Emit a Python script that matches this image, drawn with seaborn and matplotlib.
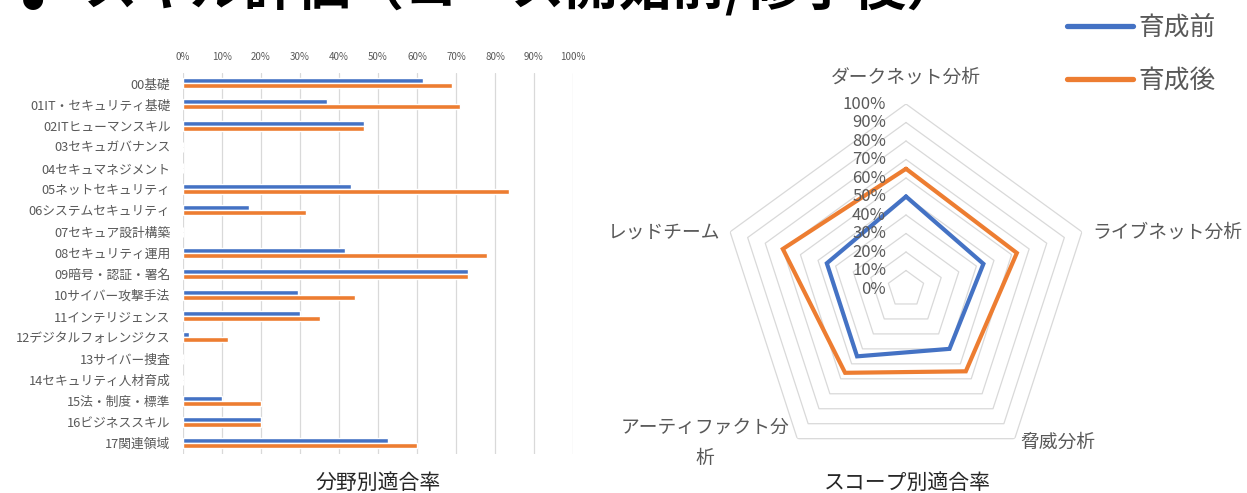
import numpy as np
import pandas as pd
import matplotlib
matplotlib.use("Agg")
import matplotlib.pyplot as plt
import seaborn as sns
from matplotlib.lines import Line2D

# ---------------- data ----------------
categories = ["00基礎", "01IT・セキュリティ基礎", "02ITヒューマンスキル", "03セキュガバナンス",
              "04セキュマネジメント", "05ネットセキュリティ", "06システムセキュリティ",
              "07セキュア設計構築", "08セキュリティ運用", "09暗号・認証・署名",
              "10サイバー攻撃手法", "11インテリジェンス", "12デジタルフォレンジクス",
              "13サイバー捜査", "14セキュリティ人材育成", "15法・制度・標準",
              "16ビジネススキル", "17関連領域"]
before = [61.5, 37, 46.5, 0, 0, 43, 17, 0, 41.5, 73, 29.5, 30, 1.5, 0, 0, 10, 20, 52.5]
after = [69, 71, 46.5, 0, 0, 83.5, 31.5, 0, 78, 73, 44, 35, 11.5, 0, 0, 20, 20, 60]
series_names = ["育成前", "育成後"]
x_ticks = [0, 10, 20, 30, 40, 50, 60, 70, 80, 90, 100]
x_tick_labels = ["0%", "10%", "20%", "30%", "40%", "50%", "60%", "70%", "80%", "90%", "100%"]

scopes = ["ダークネット分析", "ライブネット分析", "脅威分析", "アーティファクト分析", "レッドチーム"]
scope_labels = ["ダークネット分析", "ライブネット分析", "脅威分析", "アーティファクト分\n析", "レッドチーム"]
radar_before = [50, 44, 40, 45, 45]
radar_after = [65, 63, 55, 56, 70]
r_levels = [0, 10, 20, 30, 40, 50, 60, 70, 80, 90, 100]
r_labels = ["0%", "10%", "20%", "30%", "40%", "50%", "60%", "70%", "80%", "90%", "100%"]

title_bullet = "●"
title = "スキル評価（コース開始前/修了後）"
bar_title = "分野別適合率"
radar_title = "スコープ別適合率"

BLUE = "#4472C4"
ORANGE = "#ED7D31"
GRID = "#D9D9D9"
TXT = "#595959"

sns.set_theme(style="white")
plt.rcParams["font.family"] = ["Noto Sans CJK JP", "DejaVu Sans"]

W, H = 1247, 493
fig = plt.figure(figsize=(W / 100, H / 100), dpi=100)


def px_rect(x0, y0, x1, y1):
    return [x0 / W, (H - y1) / H, (x1 - x0) / W, (y1 - y0) / H]


# ---------------- bar chart ----------------
ax1 = fig.add_axes(px_rect(183, 72.7, 573, 453.9))
df = pd.DataFrame({
    "category": categories * 2,
    "series": [series_names[0]] * len(categories) + [series_names[1]] * len(categories),
    "value": before + after,
})
sns.barplot(data=df, y="category", x="value", hue="series", hue_order=series_names,
            order=categories, orient="h", palette=[BLUE, ORANGE], saturation=1,
            width=0.47, legend=False, ax=ax1, errorbar=None)
ax1.set_xlim(0, 100)
ax1.set_xticks(x_ticks)
ax1.set_xticklabels(x_tick_labels)
ax1.xaxis.tick_top()
ax1.tick_params(axis="x", length=0, pad=8, labelsize=7, labelcolor=TXT)
ax1.tick_params(axis="y", length=0, pad=9, labelsize=9.2, labelcolor=TXT)
ax1.grid(axis="x", color=GRID, linewidth=0.9)
ax1.grid(axis="y", visible=False)
ax1.set_axisbelow(True)
for s in ax1.spines.values():
    s.set_visible(False)
ax1.set_xlabel("")
ax1.set_ylabel("")

fig.text(378 / W, 1 - 483 / H, bar_title, ha="center", va="center", fontsize=15, color="#262626")

# ---------------- radar chart ----------------
cx, cy, R = 906, 289, 185
ax2 = fig.add_axes(px_rect(cx - R, cy - R, cx + R, cy + R), projection="polar")
ax2.set_theta_zero_location("N")
ax2.set_theta_direction(-1)
ax2.set_ylim(0, 100)
ax2.grid(False)
ax2.spines["polar"].set_visible(False)
ax2.set_xticks([])
ax2.set_yticks([])
ax2.patch.set_alpha(0)

n = len(scopes)
angles = np.linspace(0, 2 * np.pi, n, endpoint=False)
closed = np.concatenate([angles, angles[:1]])
for lv in r_levels[1:]:
    ax2.plot(closed, [lv] * (n + 1), color=GRID, linewidth=0.9, zorder=1)

ax2.plot(closed, radar_before + radar_before[:1], color=BLUE, linewidth=3, zorder=3,
         solid_joinstyle="miter")
ax2.plot(closed, radar_after + radar_after[:1], color=ORANGE, linewidth=3, zorder=3,
         solid_joinstyle="miter")

for lv, lab in zip(r_levels, r_labels):
    ax2.annotate(lab, xy=(0, lv), xytext=(-20, 0), textcoords="offset pixels",
                 ha="right", va="center", fontsize=12, color=TXT, zorder=5,
                 annotation_clip=False)

offsets = [((0, 27), "center"), ((10, 0), "left"), ((6, -4), "left"),
           ((-92, -4), "center"), ((-10, 0), "right")]
for ang, lab, (off, ha) in zip(angles, scope_labels, offsets):
    ax2.annotate(lab, xy=(ang, 100), xytext=off, textcoords="offset pixels",
                 ha=ha, va="center", fontsize=13.5, color=TXT, linespacing=1.7,
                 multialignment="center", annotation_clip=False)

fig.text(907 / W, 1 - 483 / H, radar_title, ha="center", va="center", fontsize=15, color="#262626")

handles = [Line2D([0], [0], color=BLUE, linewidth=3.8, solid_capstyle="round"),
           Line2D([0], [0], color=ORANGE, linewidth=3.8, solid_capstyle="round")]
leg = fig.legend(handles, series_names, loc="upper left",
                 bbox_to_anchor=(1067 / W, 1 - 15 / H), frameon=False, fontsize=18.5,
                 handlelength=2.55, handletextpad=0.25, labelspacing=1.05,
                 borderpad=0, borderaxespad=0)
for t in leg.get_texts():
    t.set_color(TXT)

# ---------------- title (clipped at top edge) ----------------
fig.text(33 / W, 1 - 1 / H, title_bullet, ha="center", va="center", fontsize=16,
         color="black")
fig.text(84 / W, 1 - 5 / H, title, ha="left", va="baseline", fontsize=38.5,
         fontweight="bold", color="black")

fig.savefig("out.png", dpi=100)
